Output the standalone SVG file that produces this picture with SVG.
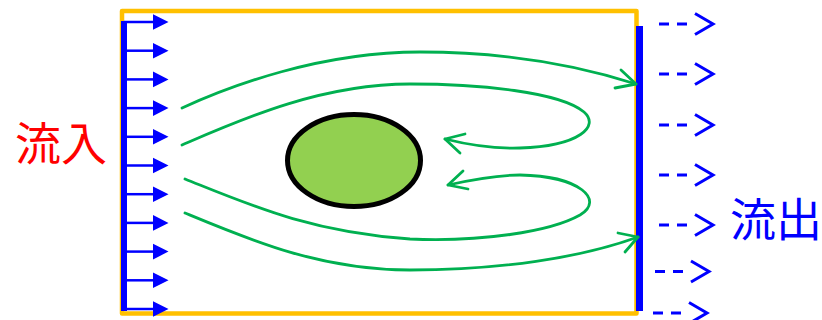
<svg xmlns="http://www.w3.org/2000/svg" width="822" height="320" viewBox="0 0 822 320">
<style>
.frame{fill:none;stroke:#FFC000;stroke-width:4.5;stroke-linejoin:round}
.bar{fill:#0000FF}
.inArrow line{stroke:#0000FF;stroke-width:2.5}
.inArrow polygon{fill:#0000FF}
.out line{stroke:#0000FF;stroke-width:3;stroke-dasharray:10 8}
.out polyline{fill:none;stroke:#0000FF;stroke-width:3;stroke-linejoin:miter}
.flow{fill:none;stroke:#00B050;stroke-width:2.8;stroke-linecap:round;stroke-linejoin:round}
.lbl{font-family:"Noto Sans CJK JP","Noto Sans CJK SC",sans-serif;font-size:46px}
</style>
<defs>
<g id="inA" class="inArrow">
<line x1="124" y1="0" x2="155" y2="0"/>
<polygon points="153,-7.8 168.5,0 153,7.8"/>
</g>
<g id="outA" class="out">
<line x1="659" y1="0" x2="695" y2="0"/>
<polyline points="695,-10.5 713,0 695,10.5"/>
</g>
</defs>

<g id="domain">
<rect class="frame" x="122" y="11" width="514.5" height="302.5"/>
</g>

<g id="inlet">
<use href="#inA" y="22"/>
<use href="#inA" y="50.7"/>
<use href="#inA" y="79.4"/>
<use href="#inA" y="108.1"/>
<use href="#inA" y="136.8"/>
<use href="#inA" y="165.5"/>
<use href="#inA" y="194.2"/>
<use href="#inA" y="222.9"/>
<use href="#inA" y="251.6"/>
<use href="#inA" y="280.3"/>
<use href="#inA" y="309"/>
<rect class="bar" x="121" y="21" width="6" height="290"/>
</g>

<g id="outlet">
<rect class="bar" x="636" y="26" width="7" height="285"/>
<use href="#outA" y="24"/>
<use href="#outA" y="74"/>
<use href="#outA" y="125"/>
<use href="#outA" y="175"/>
<use href="#outA" y="225"/>
<use href="#outA" x="-4" y="271.5"/>
<use href="#outA" x="-6" y="313"/>
</g>

<g id="obstacle">
<ellipse cx="354" cy="160.5" rx="66.5" ry="46" fill="#92D050" stroke="#000000" stroke-width="5"/>
</g>

<g id="connectors">
<path class="flow" d="M182,108 C230,86 320,52 420,52 C510,52 580,66 636,84"/>
<polyline class="flow" points="621,70 636,84 615,88"/>
<path class="flow" d="M182,145 C240,120 320,84 410,84 C480,84 560,92 584,112 C600,126 580,146 520,148 C490,149 465,144 445,139"/>
<polyline class="flow" points="465,134 445,139 460,153"/>
<path class="flow" d="M185,179 C250,205 310,232 410,239 C480,242 550,232 580,215 C605,200 580,176 520,175 C495,175 470,180 448,185"/>
<polyline class="flow" points="463,171 448,185 468,189"/>
<path class="flow" d="M185,213 C250,240 320,270 410,270 C500,270 580,258 638,237"/>
<polyline class="flow" points="618,233 638,237 625,252"/>
</g>

<g id="labels">
<text class="lbl" x="15" y="160" fill="#FF0000">流入</text>
<text class="lbl" x="730" y="236" fill="#0000FF">流出</text>
</g>
</svg>
